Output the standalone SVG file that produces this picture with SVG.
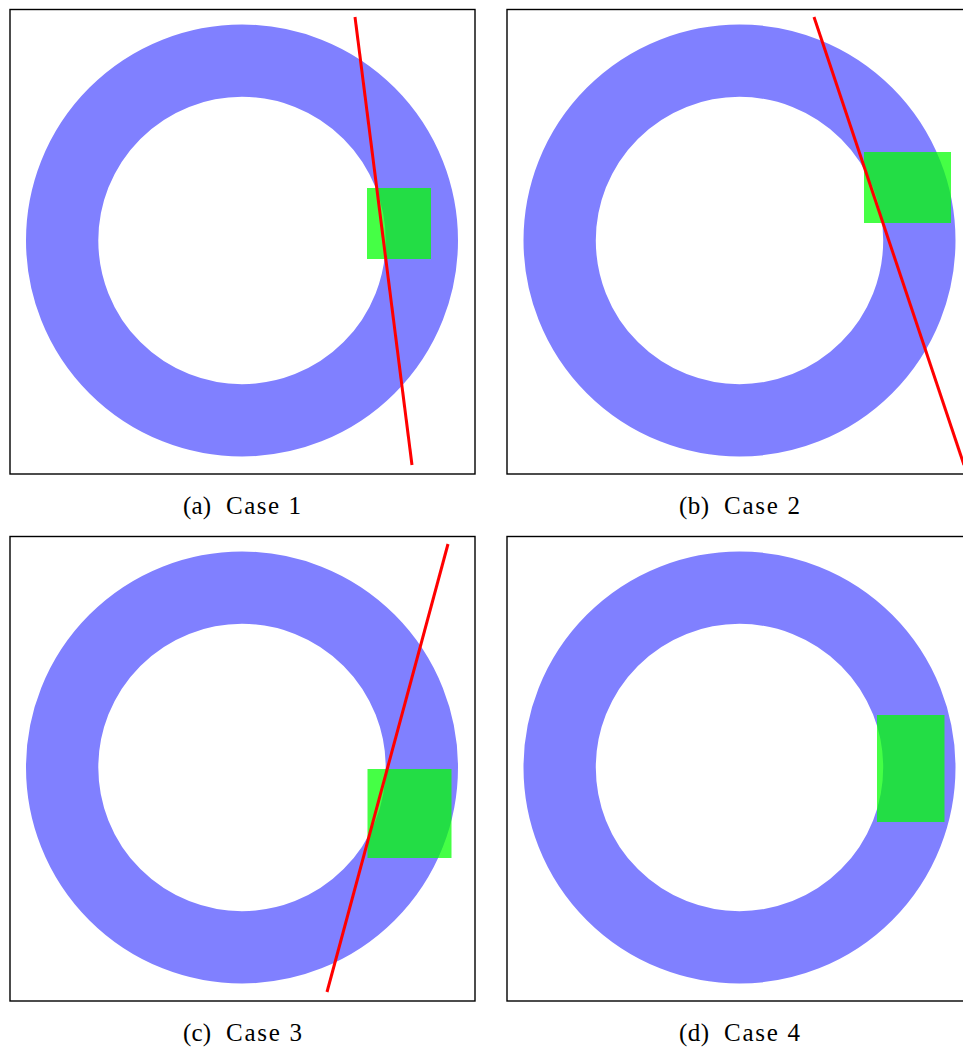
<svg xmlns="http://www.w3.org/2000/svg" width="963" height="1049" viewBox="0 0 963 1049">
<style>
.frame{fill:#fff;stroke:#000;stroke-width:1.4}
.ring{fill:none;stroke:#8080ff;stroke-width:72.3}
.sq{fill:#00ff00;fill-opacity:0.73}
.cut{stroke:#ff0000;stroke-width:3;fill:none}
.cap{font-family:"Liberation Serif",serif;font-size:25px;fill:#000}
</style>
<rect width="963" height="1049" fill="#fff"/>
<g id="panel-a">
<rect class="frame" x="10" y="9.5" width="465" height="464.5"/>
<circle class="ring" cx="242" cy="240.5" r="179.85"/>
<rect class="sq" x="367" y="188" width="64" height="71"/>
<line class="cut" x1="355" y1="17" x2="412" y2="465"/>
<text class="cap" y="514"><tspan x="183" textLength="28" lengthAdjust="spacing">(a)</tspan><tspan x="226" textLength="75" lengthAdjust="spacing">Case 1</tspan></text>
</g>
<g id="panel-b">
<rect class="frame" x="507" y="9.5" width="470" height="464.5"/>
<circle class="ring" cx="739.5" cy="240.5" r="179.85"/>
<rect class="sq" x="864" y="152" width="87" height="71"/>
<line class="cut" x1="814" y1="17" x2="964" y2="465"/>
<text class="cap" y="514"><tspan x="679" textLength="30" lengthAdjust="spacing">(b)</tspan><tspan x="724" textLength="76" lengthAdjust="spacing">Case 2</tspan></text>
</g>
<g id="panel-c">
<rect class="frame" x="10" y="536.5" width="465" height="464.5"/>
<circle class="ring" cx="242" cy="767.5" r="179.85"/>
<rect class="sq" x="367.5" y="769" width="84" height="89"/>
<line class="cut" x1="448" y1="544" x2="327" y2="992"/>
<text class="cap" y="1041"><tspan x="183" textLength="28" lengthAdjust="spacing">(c)</tspan><tspan x="226" textLength="76" lengthAdjust="spacing">Case 3</tspan></text>
</g>
<g id="panel-d">
<rect class="frame" x="507" y="536.5" width="470" height="464.5"/>
<circle class="ring" cx="739.5" cy="767.5" r="179.85"/>
<rect class="sq" x="877" y="715" width="67.5" height="107"/>
<text class="cap" y="1041"><tspan x="679" textLength="30" lengthAdjust="spacing">(d)</tspan><tspan x="724" textLength="76" lengthAdjust="spacing">Case 4</tspan></text>
</g>
<g id="connectors"/>
</svg>
